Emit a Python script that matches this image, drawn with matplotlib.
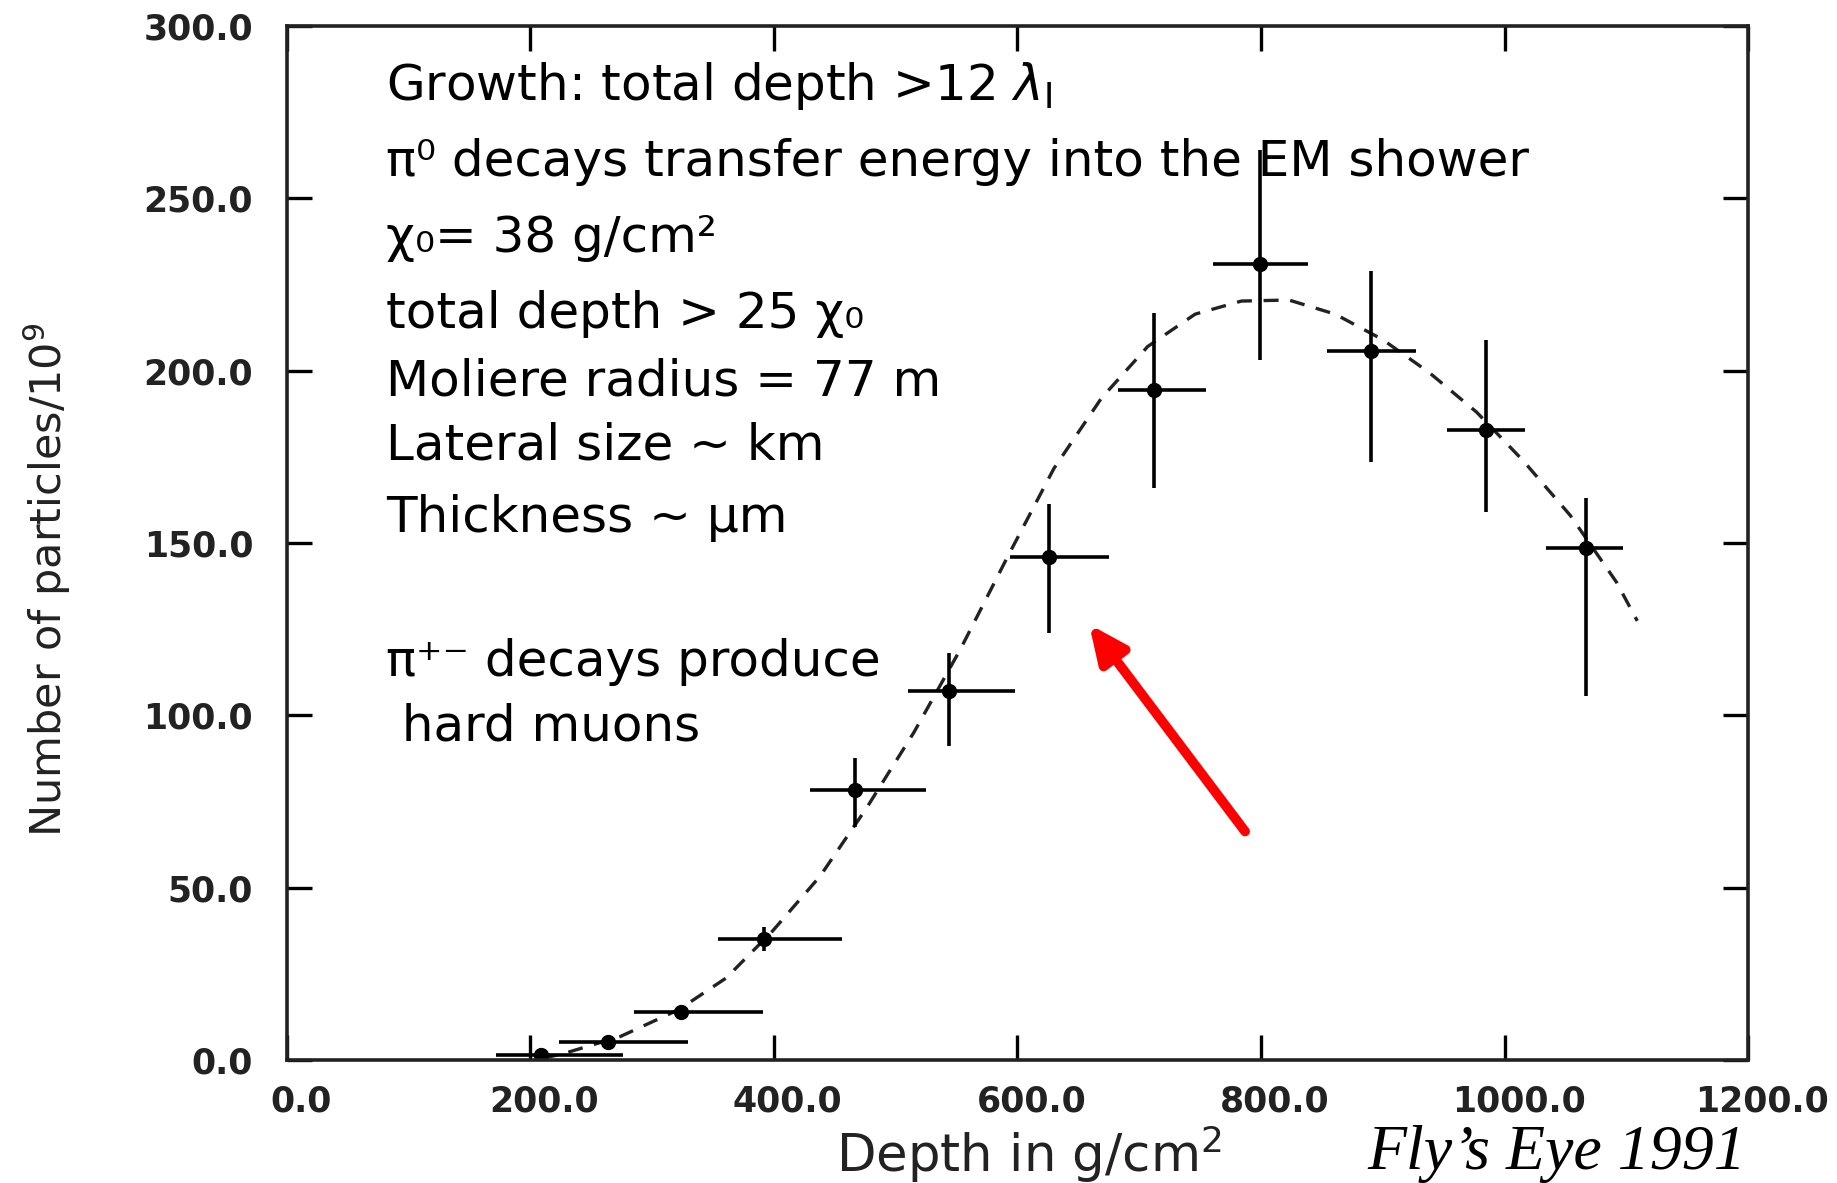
import matplotlib
matplotlib.use("Agg")
import matplotlib.pyplot as plt
import matplotlib.transforms as mtransforms
import numpy as np

# ---- data ----
depth = [209, 264, 324, 392, 467, 544, 626, 712, 799, 890, 985, 1067]
particles = [1.4, 5.1, 13.9, 35.0, 78.2, 107.0, 145.8, 194.4, 231.0, 205.6, 182.8, 148.5]
xerr_lo = [37, 40, 39, 38, 37, 34, 32, 29, 38, 36, 32, 33]
xerr_hi = [67, 66, 67, 64, 58, 54, 49, 43, 40, 37, 32, 30]
yerr_lo = [2, 1.5, 1.5, 3.5, 10.5, 16, 21.8, 28.4, 28, 32, 23.8, 42.8]
yerr_hi = [2, 1.5, 1.5, 3.5, 9.5, 11, 15.6, 22.4, 33, 23.4, 26.2, 14.6]

fit_depth = [210, 226, 274, 322, 361, 399, 438, 476, 515, 553, 592, 630, 669,
             707, 746, 784, 823, 861, 900, 938, 977, 1015, 1054, 1092, 1109]
fit_particles = [0.5, 1.7, 6.8, 14.6, 23.8, 37.4, 53.3, 73, 95, 119, 146, 171.6, 192,
                 207, 216.4, 220.2, 220.5, 216.4, 209, 199.5, 188, 174, 158, 138.6, 127.4]

xticks = [0, 200, 400, 600, 800, 1000, 1200]
yticks = [0, 50, 100, 150, 200, 250, 300]

notes = [
    r"Growth: total depth >12 $\lambda_{\mathrm{I}}$",
    "π⁰ decays transfer energy into the EM shower",
    "χ₀= 38 g/cm²",
    "total depth > 25 χ₀",
    "Moliere radius = 77 m",
    "Lateral size ~ km",
    "Thickness ~ μm",
    "π⁺⁻ decays produce",
    " hard muons",
]
note_y = [282.7, 260.6, 238.5, 216.4, 197.0, 178.3, 157.2, 115.4, 96.7]

plt.rcParams['mathtext.fontset'] = 'dejavusans'
plt.rcParams['font.family'] = ['DejaVu Sans']

fig = plt.figure(figsize=(18.37, 11.83), dpi=100)
ax = fig.add_axes([0.156, 0.104, 0.7956, 0.874])

ax.plot(fit_depth, fit_particles, linestyle=(0, (4.5, 3.5)), color='#222222', lw=2.4)
ax.errorbar(depth, particles, xerr=[xerr_lo, xerr_hi], yerr=[yerr_lo, yerr_hi],
            fmt='o', color='black', ms=10, elinewidth=2.6, capsize=0)

ax.set_xlim(0, 1200)
ax.set_ylim(0, 300)
ax.set_xticks(xticks)
ax.set_yticks(yticks)
ax.set_xticklabels([f"{v:.1f}" for v in xticks], fontsize=25, fontweight='bold', color='#222222')
ax.set_yticklabels([f"{v:.1f}" for v in yticks], fontsize=25, fontweight='bold', color='#222222')
ax.tick_params(axis='both', direction='in', length=18, width=2.4, top=True, right=True)
ax.tick_params(axis='x', pad=18)
ax.tick_params(axis='y', pad=24)
offset = mtransforms.ScaledTranslation(14 / 100, 0, fig.dpi_scale_trans)
for lab in ax.get_xticklabels():
    lab.set_transform(lab.get_transform() + offset)
for s in ax.spines.values():
    s.set_linewidth(2.6)
    s.set_color('#222222')

ax.set_ylabel("Number of particles/10$^9$", fontsize=31, color='#222222')
ax.yaxis.set_label_coords(-0.146, 0.465)
ax.set_xlabel("Depth in g/cm$^2$", fontsize=37, color='#222222')
ax.xaxis.set_label_coords(0.508, -0.061)

for t, y in zip(notes, note_y):
    ax.text(82, y, t, fontsize=36, va='center', ha='left', color='black')

ax.annotate("", xy=(659, 126.4), xytext=(787, 66.3),
            arrowprops=dict(arrowstyle="-|>,head_length=2.2,head_width=1.0",
                            color='#ff0000', lw=7, shrinkA=0, shrinkB=0))

fig.text(0.9505, 0.012, "Fly’s Eye 1991", fontsize=46, family='Liberation Serif',
         style='italic', ha='right', va='baseline', color='black')

fig.savefig("out.png", dpi=100)
